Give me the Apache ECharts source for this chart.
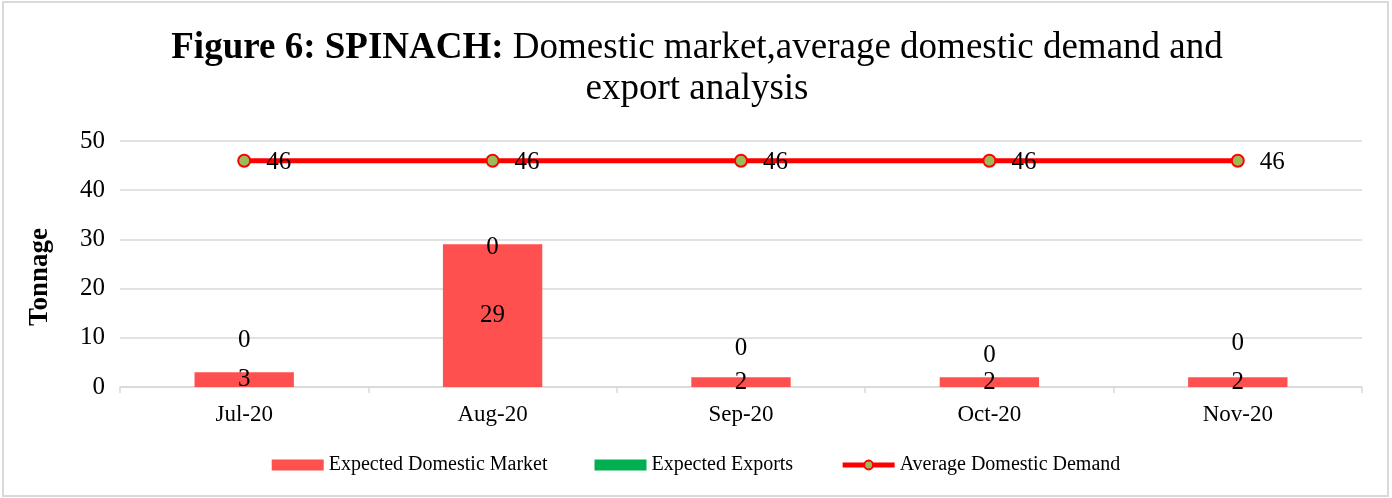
<!DOCTYPE html>
<html>
<head>
<meta charset="utf-8">
<script src="https://cdn.jsdelivr.net/npm/echarts@6/dist/echarts.min.js"></script>
<style>
  html, body { margin: 0; padding: 0; background: #ffffff; }
  #chart { width: 1392px; height: 498px; }
</style>
</head>
<body>
<div id="chart"></div>
<script>
// Monthly spinach figures (tonnes)
const months = ['Jul-20', 'Aug-20', 'Sep-20', 'Oct-20', 'Nov-20'];
const domesticMarket = [3, 29, 2, 2, 2];
const exportsExpected = [0, 0, 0, 0, 0];
const avgDemand = [46, 46, 46, 46, 46];
const yTicks = { min: 0, max: 50, step: 10 };

const FONT = '"Liberation Serif", "Times New Roman", serif';

// vertical nudges for the export labels so they sit clear of the bars
const exportLabelShift = [-32, 3, -29, -22, -34];

const chart = echarts.init(document.getElementById('chart'), null, { renderer: 'canvas' });

chart.setOption({
  backgroundColor: '#ffffff',
  animation: false,
  textStyle: { fontFamily: FONT },
  graphic: [
    {
      type: 'rect',
      shape: { x: 3, y: 2, width: 1385, height: 494 },
      style: { fill: 'none', stroke: '#d9d9d9', lineWidth: 2 },
      silent: true
    },
    {
      type: 'text',
      x: 697, y: 48,
      style: {
        text: '{b|Figure 6: SPINACH:}{n| Domestic market,average domestic demand and}',
        align: 'center',
        verticalAlign: 'middle',
        rich: {
          b: { fontFamily: FONT, fontSize: 37, fontWeight: 'bold', fill: '#000' },
          n: { fontFamily: FONT, fontSize: 37, fontWeight: 'normal', fill: '#000' }
        }
      }
    },
    {
      type: 'text',
      x: 697, y: 89,
      style: {
        text: 'export analysis',
        font: '37px ' + FONT,
        fill: '#000',
        align: 'center',
        verticalAlign: 'middle'
      }
    },
    {
      type: 'text',
      x: 40, y: 277,
      rotation: Math.PI / 2,
      style: {
        text: 'Tonnage',
        font: 'bold 27px ' + FONT,
        fill: '#000',
        align: 'center',
        verticalAlign: 'middle'
      }
    }
  ],
  legend: {
    bottom: 18,
    left: 'center',
    itemWidth: 52,
    itemHeight: 11,
    itemGap: 47,
    textStyle: { fontFamily: FONT, fontSize: 20, color: '#000' },
    data: [
      { name: 'Expected Domestic Market', icon: 'rect' },
      { name: 'Expected Exports', icon: 'rect' },
      { name: 'Average Domestic Demand', lineStyle: { width: 5, color: '#ff0000' } }
    ]
  },
  grid: { left: 120, right: 30, top: 141, bottom: 111, containLabel: false },
  xAxis: {
    type: 'category',
    data: months,
    axisLine: { lineStyle: { color: '#d9d9d9', width: 1.5 } },
    axisTick: { show: true, length: 6, lineStyle: { color: '#d9d9d9', width: 1.5 } },
    axisLabel: { fontFamily: FONT, fontSize: 23, color: '#000', margin: 16 }
  },
  yAxis: {
    type: 'value',
    min: yTicks.min,
    max: yTicks.max,
    interval: yTicks.step,
    axisLine: { show: false },
    axisTick: { show: false },
    axisLabel: { fontFamily: FONT, fontSize: 25, color: '#000', margin: 15 },
    splitLine: { lineStyle: { color: '#d9d9d9', width: 1.5 } }
  },
  series: [
    {
      name: 'Expected Domestic Market',
      type: 'bar',
      stack: 'total',
      barWidth: '40%',
      data: domesticMarket,
      itemStyle: { color: '#ff5050' },
      label: {
        show: true,
        position: 'inside',
        fontFamily: FONT,
        fontSize: 25,
        color: '#000'
      }
    },
    {
      name: 'Expected Exports',
      type: 'bar',
      stack: 'total',
      barWidth: '40%',
      data: exportsExpected.map((v, i) => ({
        value: v,
        label: { offset: [0, exportLabelShift[i]] }
      })),
      itemStyle: { color: '#00b050' },
      label: {
        show: true,
        position: 'inside',
        fontFamily: FONT,
        fontSize: 25,
        color: '#000'
      }
    },
    {
      name: 'Average Domestic Demand',
      type: 'line',
      data: avgDemand,
      symbol: 'circle',
      symbolSize: 12,
      lineStyle: { color: '#ff0000', width: 5 },
      itemStyle: { color: '#9bbb59', borderColor: '#ff0000', borderWidth: 2 },
      label: {
        show: true,
        position: 'right',
        distance: 15,
        offset: [0, 2],
        fontFamily: FONT,
        fontSize: 25,
        color: '#000'
      },
      z: 5
    }
  ]
});
</script>
</body>
</html>
